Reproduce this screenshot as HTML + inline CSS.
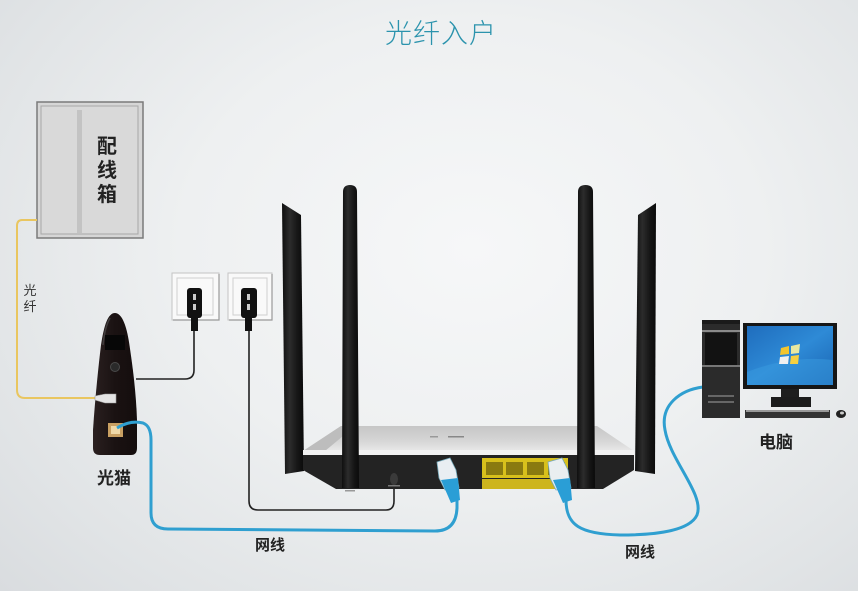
<!DOCTYPE html>
<html><head><meta charset="utf-8">
<style>
html,body{margin:0;padding:0;}
body{width:858px;height:591px;overflow:hidden;background:radial-gradient(ellipse 75% 85% at 55% 42%,#f6f7f8 0%,#eef0f1 45%,#e1e4e6 80%,#d9dcdf 100%);}
svg{display:block;}
text{font-family:"Liberation Sans","Noto Sans CJK SC",sans-serif;}
</style></head><body>
<svg width="858" height="591" viewBox="0 0 858 591" xmlns="http://www.w3.org/2000/svg">
<defs>
<linearGradient id="top" x1="0" y1="0" x2="0" y2="1">
<stop offset="0" stop-color="#c6c6c6"/><stop offset="0.6" stop-color="#d6d6d6"/><stop offset="1" stop-color="#e8e8e8"/>
</linearGradient>
<linearGradient id="ant" x1="0" y1="0" x2="1" y2="0">
<stop offset="0" stop-color="#0e0e0e"/><stop offset="0.35" stop-color="#2c2c2c"/><stop offset="0.7" stop-color="#161616"/><stop offset="1" stop-color="#0a0a0a"/>
</linearGradient>
<linearGradient id="ont" x1="0" y1="0" x2="1" y2="0">
<stop offset="0" stop-color="#2a2020"/><stop offset="0.5" stop-color="#1a1212"/><stop offset="1" stop-color="#140d0d"/>
</linearGradient>
<linearGradient id="scr" x1="0" y1="0" x2="1" y2="1">
<stop offset="0" stop-color="#1f6dbd"/><stop offset="0.5" stop-color="#2e8ad6"/><stop offset="1" stop-color="#1a64b2"/>
</linearGradient>
</defs>

<!-- title -->
<text x="441" y="43" font-size="27" fill="#2b93ad" text-anchor="middle" letter-spacing="1" font-weight="300">光纤入户</text>

<!-- distribution box -->
<rect x="37" y="102" width="106" height="136" fill="#d6d6d6" stroke="#7a7a7a" stroke-width="1.5"/>
<rect x="41" y="106" width="97" height="128" fill="#d9d9d9" stroke="#a8a8a8" stroke-width="1"/>
<rect x="77" y="110" width="5" height="123" fill="#c3c3c3"/>
<text x="107" y="153" font-size="20" font-weight="bold" fill="#222" text-anchor="middle">配</text>
<text x="107" y="177" font-size="20" font-weight="bold" fill="#222" text-anchor="middle">线</text>
<text x="107" y="201" font-size="20" font-weight="bold" fill="#222" text-anchor="middle">箱</text>

<!-- fiber -->
<path d="M37 220 L22 220 Q17 220 17 226 L17 390 Q17 398 25 398 L97 398" fill="none" stroke="#e9c660" stroke-width="2"/>
<text x="30" y="295" font-size="13" fill="#333" text-anchor="middle">光</text>
<text x="30" y="311" font-size="13" fill="#333" text-anchor="middle">纤</text>

<!-- wall sockets -->
<rect x="172" y="273" width="47" height="47" fill="#f9f9f9" stroke="#c4c4c4"/>
<path d="M219 274 L219 320 L173 320" fill="none" stroke="#999" stroke-width="1.2"/>
<rect x="177" y="278" width="36" height="37" fill="none" stroke="#cfcfcf"/>
<rect x="228" y="273" width="44" height="47" fill="#f9f9f9" stroke="#c4c4c4"/>
<path d="M272 274 L272 320 L229 320" fill="none" stroke="#999" stroke-width="1.2"/>
<rect x="233" y="278" width="34" height="37" fill="none" stroke="#cfcfcf"/>

<!-- black cables -->
<path d="M194 322 L194 370 Q194 379 185 379 L136 379" fill="none" stroke="#222" stroke-width="1.6"/>
<path d="M249 322 L249 501 Q249 510 258 510 L386 510 Q394 510 394 501 L394 486" fill="none" stroke="#222" stroke-width="1.6"/>

<!-- plugs -->
<rect x="187" y="288" width="15" height="30" rx="3" fill="#111"/>
<rect x="191" y="317" width="7" height="14" fill="#111"/>
<rect x="193" y="294" width="3" height="6" fill="#ccc"/><rect x="193" y="304" width="3" height="6" fill="#ccc"/>
<rect x="241" y="288" width="16" height="30" rx="3" fill="#111"/>
<rect x="245" y="317" width="7" height="14" fill="#111"/>
<rect x="247" y="294" width="3" height="6" fill="#ccc"/><rect x="247" y="304" width="3" height="6" fill="#ccc"/>

<!-- ONT -->
<path d="M115 313 C108 313 104 325 101 345 C98 370 95 400 93 430 L93 448 Q93 455 100 455 L131 455 Q137 455 137 448 L137 420 C136 390 132 362 129 342 C126 323 121 313 115 313 Z" fill="url(#ont)"/>
<path d="M110 318 C106 325 104 335 103 345" stroke="#555" stroke-width="1.5" fill="none" opacity="0.6"/>
<rect x="105" y="335" width="20" height="15" fill="#070707"/>
<circle cx="115" cy="367" r="4.5" fill="#2a2a2a" stroke="#4a4a4a"/>
<path d="M95 396 L105 394 L116 394 L116 403 L105 403 L95 400 Z" fill="#e4e4e4" stroke="#999" stroke-width="0.6"/>
<rect x="108" y="423" width="15" height="14" fill="#c9a062"/>
<rect x="111" y="426" width="9" height="8" fill="#f0d9a8"/>

<text x="114" y="484" font-size="17" font-weight="bold" fill="#222" text-anchor="middle">光猫</text>

<!-- blue cable left -->
<path d="M117 428 Q130 420 143 423 Q151 426 151 440 L151 513 Q151 529 168 529 L435 531 Q456 531 457 508 L457 494" fill="none" stroke="#2f9fd0" stroke-width="3"/>

<!-- far antennas -->
<path d="M282 203 L301 215 L304 471 L285 474 Z" fill="url(#ant)"/>
<path d="M656 203 L638 215 L635 471 L655 474 Z" fill="url(#ant)"/>

<!-- router body -->
<path d="M303 451 L341 426 L597 426 L634 451 Z" fill="url(#top)"/>
<path d="M303 451 L341 426 L355 426 L325 451 Z" fill="#bdbdbd"/>
<path d="M303 450 L634 450 L634 456 L303 456 Z" fill="#f2f2f2"/>
<path d="M303 455 L634 455 L634 470 L603 489 L336 489 L303 470 Z" fill="#232323"/>
<rect x="430" y="436" width="8" height="1.5" fill="#999"/><rect x="448" y="436" width="16" height="1.5" fill="#888"/>
<rect x="345" y="490" width="10" height="1.5" fill="#999"/>
<ellipse cx="394" cy="479" rx="4" ry="6" fill="#3a3a3a"/>
<rect x="388" y="485" width="12" height="1.5" fill="#777"/>
<!-- yellow ports -->
<rect x="482" y="458" width="86" height="20" fill="#d8c01c"/>
<rect x="486" y="462" width="17" height="13" fill="#8a7a10"/>
<rect x="506" y="462" width="17" height="13" fill="#8a7a10"/>
<rect x="527" y="462" width="17" height="13" fill="#8a7a10"/>
<rect x="548" y="462" width="17" height="13" fill="#8a7a10"/>
<rect x="482" y="479" width="86" height="10" fill="#cdb51e"/>

<!-- front antennas -->
<path d="M343 192 Q343 185 350 185 Q357 185 357 192 L359 488 L342 488 Z" fill="url(#ant)"/>
<path d="M578 192 Q578 185 585.5 185 Q593 185 593 192 L595 488 L577 488 Z" fill="url(#ant)"/>

<!-- connectors -->
<path d="M437 462 L450 458 L456 470 L459 488 L445 490 L439 478 Z" fill="#e9eef2" stroke="#7ab" stroke-width="0.8"/>
<path d="M441 480 L458 478 L460 500 L451 503 Z" fill="#2a9ed6"/>
<path d="M548 462 L562 458 L568 470 L571 488 L556 490 L550 478 Z" fill="#e9eef0" stroke="#7ab" stroke-width="0.8"/>
<path d="M553 480 L570 478 L572 500 L563 503 Z" fill="#2a9ed6"/>

<!-- blue cable right -->
<path d="M566 500 C566 525 580 534 620 535 C660 535 690 530 697 515 C705 495 670 460 665 430 C660 405 680 390 703 387" fill="none" stroke="#2f9fd0" stroke-width="3"/>

<!-- computer -->
<rect x="702" y="320" width="38" height="98" fill="#2b2b2b"/>
<rect x="702" y="320" width="38" height="4" fill="#1a1a1a"/>
<rect x="702" y="330" width="38" height="2" fill="#8a8a8a"/>
<rect x="705" y="333" width="32" height="32" fill="#121212"/>
<rect x="702" y="365" width="38" height="2" fill="#777"/>
<rect x="708" y="395" width="26" height="2" fill="#666"/>
<rect x="708" y="401" width="26" height="2" fill="#666"/>
<rect x="743" y="323" width="94" height="66" fill="#161616"/>
<rect x="747" y="326" width="86" height="59" fill="url(#scr)"/>
<path d="M747 372 Q790 355 833 360 L833 385 L747 385 Z" fill="#3a9be0" opacity="0.5"/>
<path d="M781 348 L789 346 L789 354 L780 355 Z" fill="#f3c52e"/>
<path d="M791 346 L800 344 L799 353 L791 354 Z" fill="#e8e8a0"/>
<path d="M780 357 L789 356 L788 364 L779 364 Z" fill="#f0f0f0"/>
<path d="M791 356 L799 355 L798 364 L790 364 Z" fill="#f5d040"/>
<rect x="781" y="389" width="18" height="9" fill="#1e1e1e"/>
<rect x="771" y="397" width="40" height="10" fill="#1c1c1c"/>
<rect x="745" y="410" width="85" height="8" fill="#333"/>
<rect x="746" y="410" width="83" height="2" fill="#999"/>
<ellipse cx="841" cy="414" rx="5" ry="4" fill="#222"/>
<ellipse cx="842" cy="413" rx="2" ry="1.5" fill="#ccc"/>

<!-- labels -->
<text x="776" y="448" font-size="17" font-weight="bold" fill="#222" text-anchor="middle">电脑</text>
<text x="270" y="550" font-size="15" font-weight="bold" fill="#222" text-anchor="middle">网线</text>
<text x="640" y="557" font-size="15" font-weight="bold" fill="#222" text-anchor="middle">网线</text>
</svg>
</body></html>
